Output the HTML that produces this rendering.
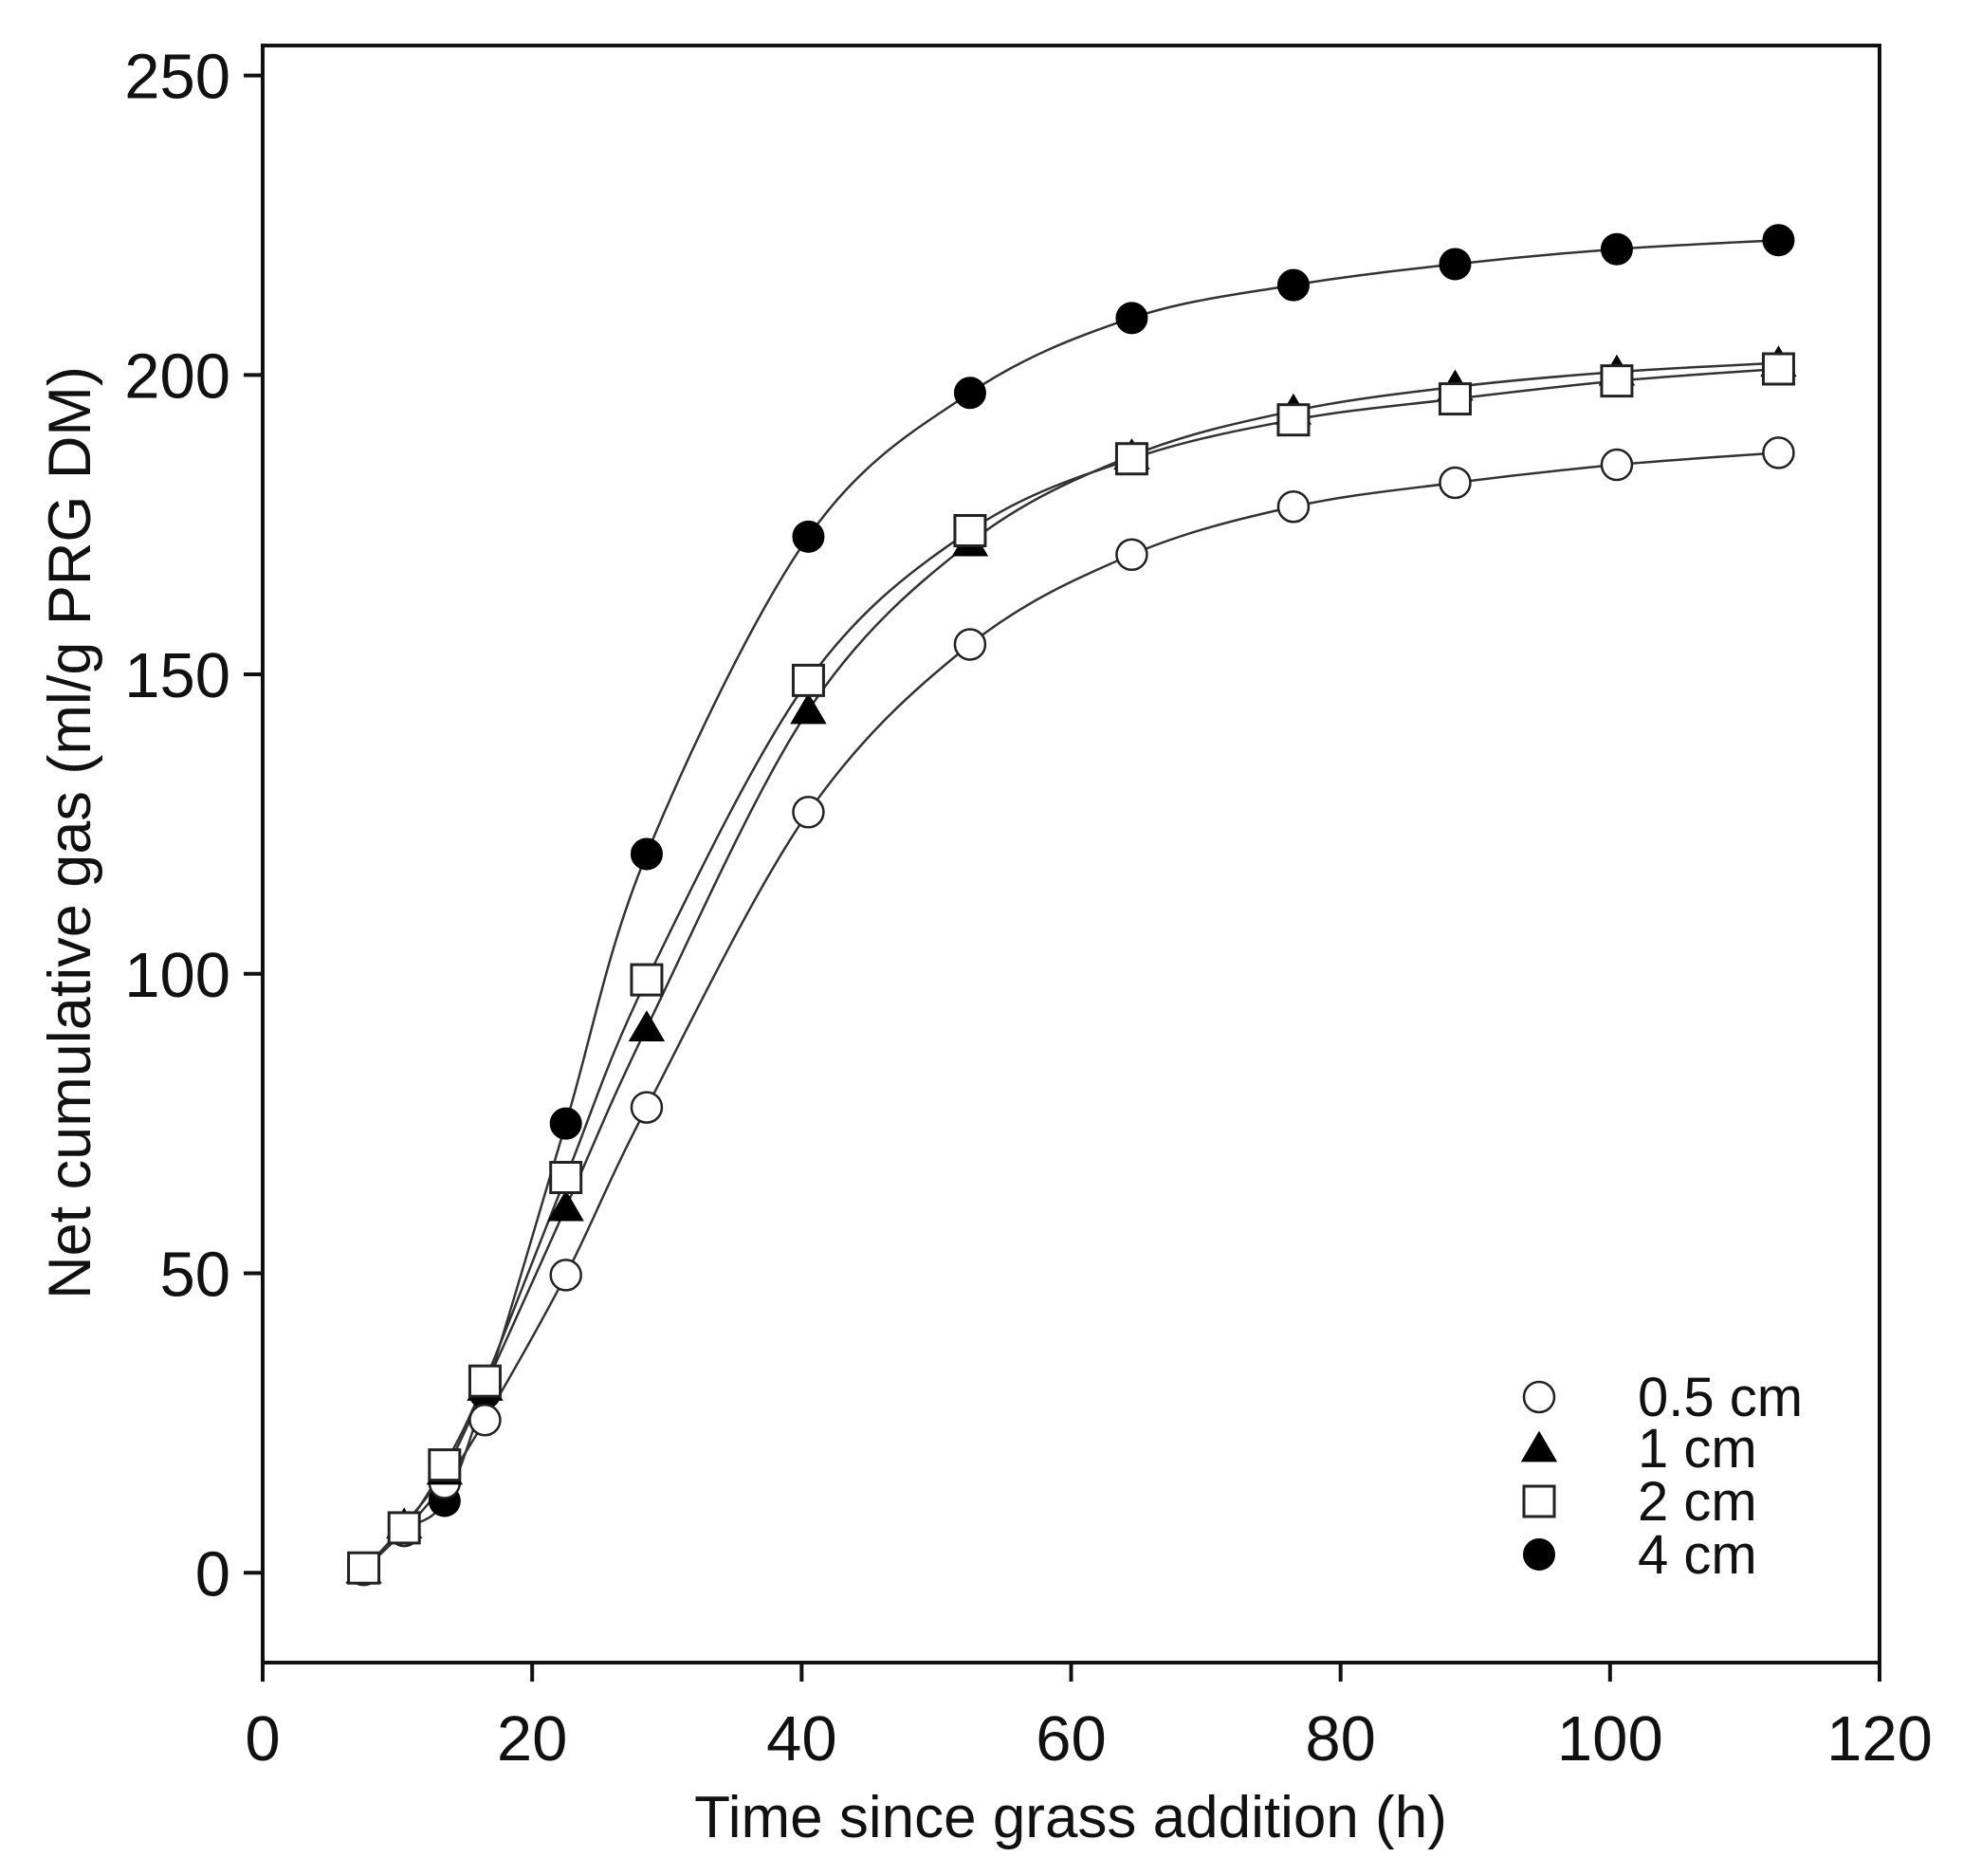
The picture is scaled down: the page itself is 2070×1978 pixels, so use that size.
<!DOCTYPE html>
<html><head><meta charset="utf-8"><style>
html,body{margin:0;padding:0;background:#fff;}
svg{display:block;font-family:"Liberation Sans",Arial,sans-serif;}
</style></head><body>
<svg id="chart" width="2070" height="1978" viewBox="0 0 2070 1978" xmlns="http://www.w3.org/2000/svg">
<rect width="2070" height="1978" fill="#fff"/>
<g id="axes"></g>
<g id="curves"></g>
<g id="marks"></g>
<g id="legend"></g>
<text x="1129" y="1937" font-size="62" text-anchor="middle" fill="#111">Time since grass addition (h)</text>
<text transform="translate(95,878) rotate(-90)" font-size="63" text-anchor="middle" fill="#111">Net cumulative gas (ml/g PRG DM)</text>
</svg>
<script>
const times = [7.5,10.5,13.5,16.5,22.5,28.5,40.5,52.5,64.5,76.5,88.5,100.5,112.5];
const seriesNames = ["0.5 cm","1 cm","2 cm","4 cm"];
const gas05 = [0.5,7,15,25.5,49.7,77.7,127,155,170,178,182,185,187];
const gas1 = [0.5,8,17,31,61,91,144,172,186.5,194,198,200.5,202];
const gas2 = [0.8,7.5,18,32,66,99,149,174,186,192.5,196,199,201];
const gas4 = [0.5,7,12,30,75,120,173,197,209.5,215,218.5,221,222.5];
const xTicks = [0,20,40,60,80,100,120];
const yTicks = [0,50,100,150,200,250];

const NS="http://www.w3.org/2000/svg";
const X0=277,X1=1982,YT=48,YB=1753;
const xMin=0,xMax=120,yMin=-15,yMax=255;
function sx(v){return X0+(v-xMin)/(xMax-xMin)*(X1-X0);}
function sy(v){return YB-(v-yMin)/(yMax-yMin)*(YB-YT);}
function mk(tag,attrs,parent){const e=document.createElementNS(NS,tag);for(const k in attrs)e.setAttribute(k,attrs[k]);parent.appendChild(e);return e;}

const axes=document.getElementById('axes');
const frame=mk('rect',{x:X0,y:YT,width:X1-X0,height:YB-YT,fill:'none',stroke:'#111','stroke-width':4},axes);


xTicks.forEach(t=>{
  const l=mk('line',{x1:sx(t),x2:sx(t),y1:YB,y2:YB+20,stroke:'#111','stroke-width':4},axes);
  
  
  const tx=mk('text',{x:sx(t),y:1856,'font-size':67,'text-anchor':'middle',fill:'#111'},axes);
  tx.textContent=t;
  
  
});
yTicks.forEach(t=>{
  const l=mk('line',{x1:X0-20,x2:X0,y1:sy(t),y2:sy(t),stroke:'#111','stroke-width':4},axes);
  
  
  const tx=mk('text',{x:243,y:sy(t)+24,'font-size':67,'text-anchor':'end',fill:'#111'},axes);
  tx.textContent=t;
  
  
});

function curvePath(xs,ys){
  const p=xs.map((x,i)=>[sx(x),sy(ys[i])]);
  let d='M'+p[0][0]+','+p[0][1];
  for(let i=0;i<p.length-1;i++){
    const p0=p[Math.max(0,i-1)],p1=p[i],p2=p[i+1],p3=p[Math.min(p.length-1,i+2)];
    const c1=[p1[0]+(p2[0]-p0[0])/6,p1[1]+(p2[1]-p0[1])/6];
    const c2=[p2[0]-(p3[0]-p1[0])/6,p2[1]-(p3[1]-p1[1])/6];
    d+=' C'+c1[0]+','+c1[1]+' '+c2[0]+','+c2[1]+' '+p2[0]+','+p2[1];
  }
  return d;
}
function marker(type,cx,cy,r,parent){
  let e;
  if(type==='circle-open') e=mk('circle',{cx:cx,cy:cy,r:r,fill:'#fff',stroke:'#222','stroke-width':2.5},parent);
  else if(type==='circle-filled') e=mk('circle',{cx:cx,cy:cy,r:r,fill:'#000',stroke:'#000','stroke-width':2},parent);
  else if(type==='square') e=mk('rect',{x:cx-r,y:cy-r,width:2*r,height:2*r,fill:'#fff',stroke:'#222','stroke-width':3},parent);
  else e=mk('polygon',{points:(cx)+','+(cy-r*1.15)+' '+(cx-r*1.2)+','+(cy+r*0.9)+' '+(cx+r*1.2)+','+(cy+r*0.9),fill:'#000'},parent);
  return e;
}
const curves=document.getElementById('curves'),marks=document.getElementById('marks');
const allSeries=[gas05,gas1,gas2,gas4];
const types=['circle-open','triangle','square','circle-filled'];
const keys=['05cm','1cm','2cm','4cm'];
allSeries.forEach((s,k)=>{
  const p=mk('path',{d:curvePath(times,s),fill:'none',stroke:'#333','stroke-width':2.5},curves);
  
  
});
[3,0,1,2].forEach(k=>{
  allSeries[k].forEach((v,i)=>{
    const m=marker(types[k],sx(times[i]),sy(v),16,marks);
    
    
  });
});
const lg=document.getElementById('legend');
const ly=[1473,1527,1583,1639];
seriesNames.forEach((n,k)=>{
  const m=marker(types[k],1623,ly[k],16,lg);
  
  
  const t=mk('text',{x:1727,y:ly[k]+20,'font-size':58,fill:'#111'},lg);
  t.textContent=n;
  
  
});
</script>
</body></html>
